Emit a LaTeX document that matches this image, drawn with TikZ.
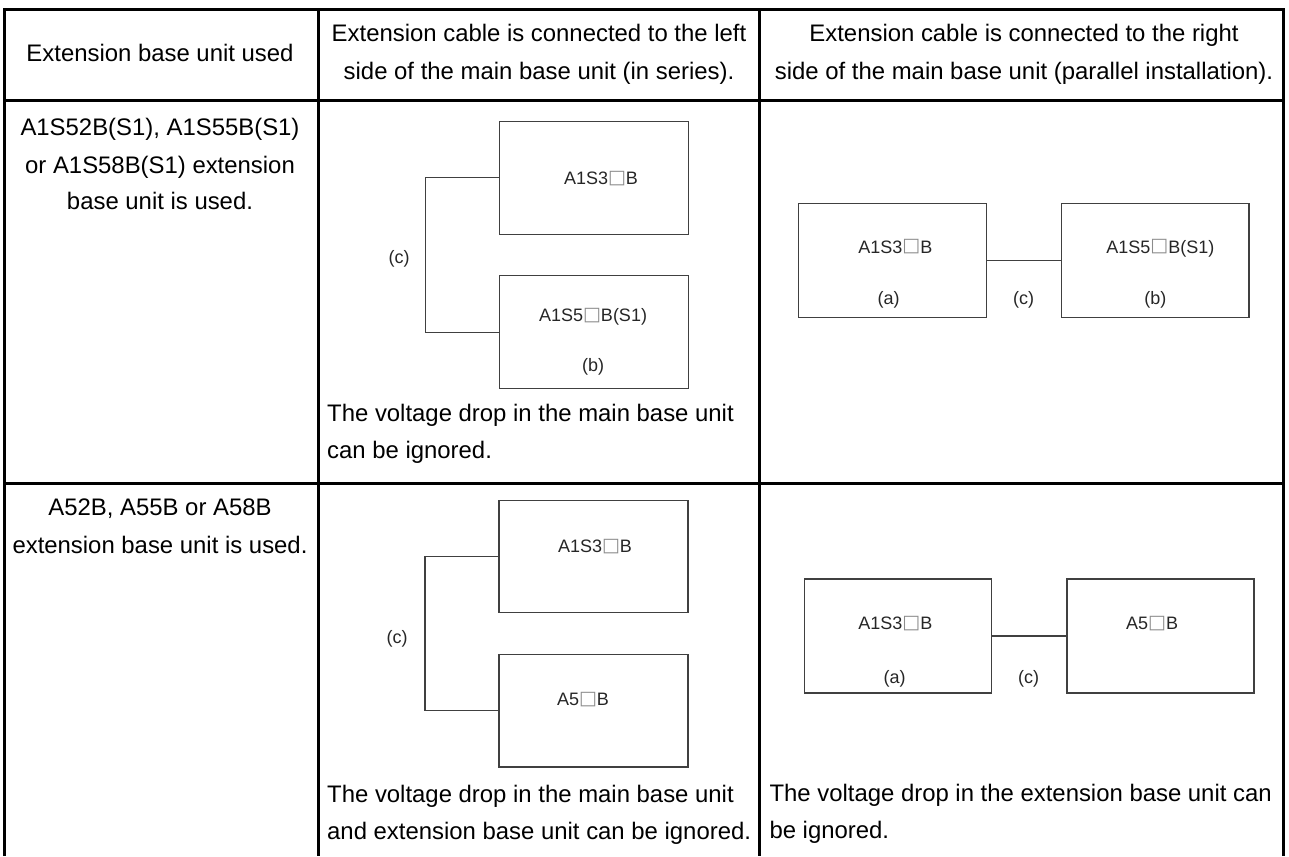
\documentclass[tikz,border=0pt]{standalone}
\usepackage{fontspec}
\setmainfont{Liberation Sans}
\newfontfamily\symfont{DejaVu Sans}
\newcommand\sqbox{\raisebox{1.2pt}{\symfont\color{black!45}\fontsize{19}{19}\selectfont □}}
\tikzset{
  tline/.style={line width=3pt, black},
  unitbox/.style={draw=black!75, line width=1.3pt, rectangle, inner sep=0pt, outer sep=0pt},
  wire/.style={draw=black!75, line width=1.3pt},
  lbl/.style={font=\fontsize{18}{20}\selectfont, text=black!85, inner sep=0pt, anchor=base},
  cell/.style={font=\fontsize{23.9}{30}\selectfont, inner sep=0pt, anchor=base},
  cellL/.style={cell, anchor=base west},
}
\begin{document}
\begin{tikzpicture}[x=1pt,y=-1pt]
\useasboundingbox (0,0) rectangle (1289,856);
% table grid
\draw[tline] (4.7,856) -- (4.7,9.5) -- (1283.7,9.5) -- (1283.7,856);
\draw[tline] (4.7,100.5) -- (1283.7,100.5);
\draw[tline] (4.7,483) -- (1283.7,483);
\draw[tline] (318.3,9.5) -- (318.3,856);
\draw[tline] (759.3,9.5) -- (759.3,856);
% header
\node[cell] (h1) at (160,61.7) {Extension base unit used};
\node[cell] (h2a) at (539,41.7) {Extension cable is connected to the left};
\node[cell] (h2b) at (539,79.7) {side of the main base unit (in series).};
\node[cell] (h3a) at (1024,41.7) {Extension cable is connected to the right};
\node[cell] (h3b) at (1024,79.7) {side of the main base unit (parallel installation).};
% row 1, column 1
\node[cell] (r1a) at (160,135.7) {A1S52B(S1), A1S55B(S1)};
\node[cell] (r1b) at (160,173.7) {or A1S58B(S1) extension};
\node[cell] (r1c) at (160,209.7) {base unit is used.};
% row 1, column 2 (in series)
\node[unitbox, minimum width=189pt, minimum height=113pt] (b1) at (594,177.7) {};
\node[unitbox, minimum width=189pt, minimum height=113pt] (b2) at (594,332.3) {};
\draw[wire] (b1.west) -- ++(-74,0) |- (b2.west);
\node[lbl] (b1t) at (601,184.7) {A1S3\sqbox B};
\node[lbl] (b2t) at (593,321.4) {A1S5\sqbox B(S1)};
\node[lbl] (b2b) at (593,371.4) {(b)};
\node[lbl] (c1) at (399,263) {(c)};
\node[cellL] (t1a) at (327,421.3) {The voltage drop in the main base unit};
\node[cellL] (t1b) at (327,458) {can be ignored.};
% row 1, column 3 (parallel)
\node[unitbox, minimum width=187.6pt, minimum height=114pt] (bA) at (892.5,260.3) {};
\node[unitbox, minimum width=187.4pt, minimum height=114pt] (bB) at (1155.4,260.3) {};
\draw[wire] (bA.east) -- (bB.west);
\node[lbl] (bAt) at (895.3,253.1) {A1S3\sqbox B};
\node[lbl] (bAb) at (888.7,304.7) {(a)};
\node[lbl] (c2) at (1023.7,304.7) {(c)};
\node[lbl] (bBt) at (1160.3,253.1) {A1S5\sqbox B(S1)};
\node[lbl] (bBb) at (1155.3,304.7) {(b)};
% row 2, column 1
\node[cell] (r2a) at (160,515.7) {A52B, A55B or A58B};
\node[cell] (r2b) at (160,553.7) {extension base unit is used.};
% row 2, column 2 (in series)
\node[unitbox, minimum width=189pt, minimum height=112pt] (b3) at (593.5,556.7) {};
\node[unitbox, minimum width=189pt, minimum height=112.3pt] (b4) at (593.5,710.8) {};
\draw[wire] (b3.west) -- ++(-74,0) |- (b4.west);
\node[lbl] (b3t) at (595,552.4) {A1S3\sqbox B};
\node[lbl] (b4t) at (583,705.4) {A5\sqbox B};
\node[lbl] (c3) at (397,643.7) {(c)};
\node[cellL] (t2a) at (327,802) {The voltage drop in the main base unit};
\node[cellL] (t2b) at (327,839) {and extension base unit can be ignored.};
% row 2, column 3 (parallel)
\node[unitbox, minimum width=187.4pt, minimum height=114pt] (bC) at (898,636) {};
\node[unitbox, minimum width=187pt, minimum height=114pt] (bD) at (1160.5,636) {};
\draw[wire] (bC.east) -- (bD.west);
\node[lbl] (bCt) at (895.3,629.7) {A1S3\sqbox B};
\node[lbl] (bCb) at (894.7,683.7) {(a)};
\node[lbl] (c4) at (1028.7,683.7) {(c)};
\node[lbl] (bDt) at (1152,629.7) {A5\sqbox B};
\node[cellL] (t3a) at (769.3,801) {The voltage drop in the extension base unit can};
\node[cellL] (t3b) at (769.3,838.7) {be ignored.};
\end{tikzpicture}
\end{document}
